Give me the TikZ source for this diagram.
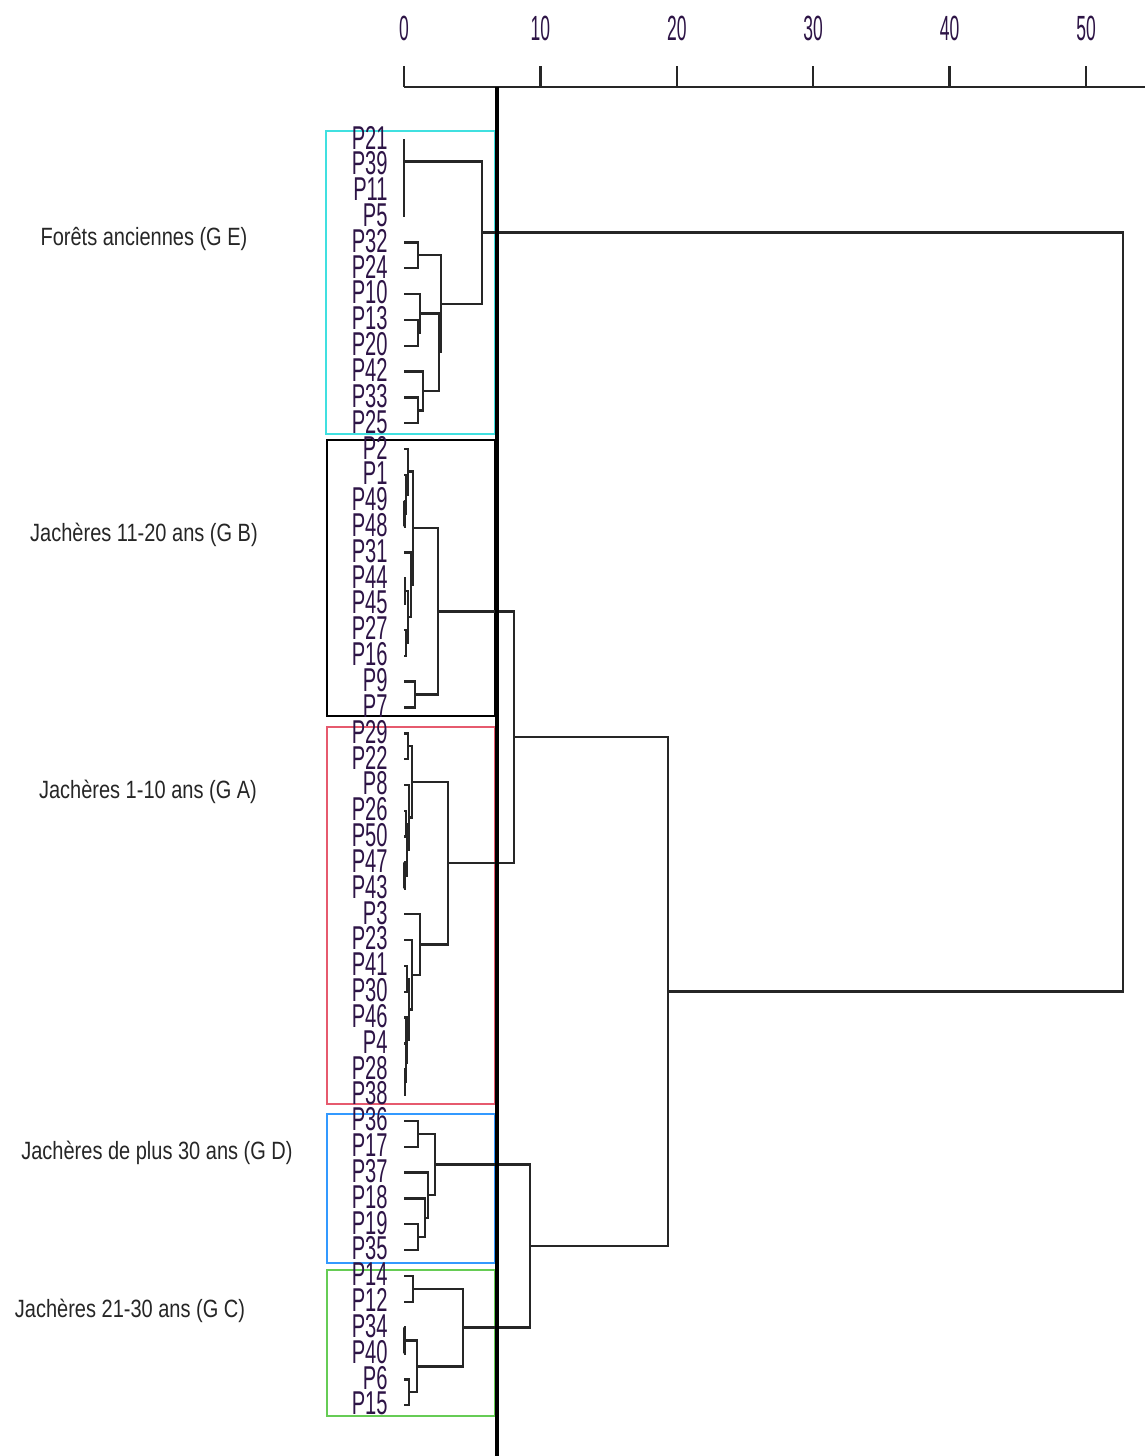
\documentclass[tikz,border=0pt]{standalone}
\usepackage{fontspec}
\usepackage{tikz}
\usetikzlibrary{calc}
\newfontfamily\leaffont[FakeStretch=0.61]{Liberation Sans}
\newfontfamily\groupfont[FakeStretch=0.8]{Liberation Sans}
\newfontfamily\axisfont[FakeStretch=0.5]{Liberation Sans}
\definecolor{ink}{RGB}{45,20,70}
\definecolor{boxE}{RGB}{64,224,224}
\definecolor{boxA}{RGB}{230,90,110}
\definecolor{boxD}{RGB}{51,153,255}
\definecolor{boxC}{RGB}{102,204,85}
\tikzset{
  leaf/.style = {anchor=east, inner sep=0pt, ink, yshift=0.75pt,
    font=\leaffont\fontsize{16.5}{16.5}\selectfont},% nom de placette
  grouplabel/.style = {inner sep=0pt, black!85,
    font=\groupfont\fontsize{12.5}{12.5}\selectfont},% nom de groupe
  ticklabel/.style = {inner sep=0pt, ink,
    font=\axisfont\fontsize{17.5}{17.5}\selectfont},% graduation
  branch/.style = {line width=1.2pt, black!85},% branche du dendrogramme
  groupbox/.style = {line width=1pt},% cadre de groupe
  cutline/.style = {line width=2pt, black}% ligne de coupure
}
% fusion de deux branches : nom, branche a, branche b, hauteur
\newcommand{\fuse}[4]{%
  \coordinate (#1m) at ($(#2)!.5!(#3)$);
  \coordinate (#1) at (#4,0 |- #1m);
  \draw[branch] (#2) -| (#1) |- (#3);}

\begin{document}
\begin{tikzpicture}[x=0.5pt,y=-0.5pt]
\useasboundingbox (0,0) rectangle (1145,1456);

% cadres des groupes
\draw[groupbox, boxE] (326,131) rectangle (495,434);
\draw[groupbox, black] (327,440) rectangle (495,716);
\draw[groupbox, boxA] (327,727) rectangle (495,1104);
\draw[groupbox, boxD] (327,1114) rectangle (495,1263);
\draw[groupbox, boxC] (327,1270) rectangle (495,1416);

% axe
\draw[branch] (404,87) -- (1145,87);
\foreach \v in {0,10,...,50} {
  \node[ticklabel] (t\v) at ({404+13.64*\v},28) {\v};
  \draw[branch] ({404+13.64*\v},66) -- ({404+13.64*\v},87);
}

% feuilles
\foreach \p [count=\i from 0] in {21,39,11,5,32,24,10,13,20,42,33,25,
    2,1,49,48,31,44,45,27,16,9,7,
    29,22,8,26,50,47,43,3,23,41,30,46,4,28,38,
    36,17,37,18,19,35,14,12,34,40,6,15} {
  \coordinate (p\p) at (404,{139+25.84*\i});
  \node[leaf] (n\p) at (388,{139+25.84*\i}) {P\p};
}

% groupe E
\fuse{e1}{p11}{p5}{404}
\fuse{e2}{p39}{e1}{404}
\fuse{e3}{p21}{e2}{404}
\fuse{e4}{p32}{p24}{418}
\fuse{e5}{p13}{p20}{418}
\fuse{e6}{p10}{e5}{420}
\fuse{e7}{p33}{p25}{418}
\fuse{e8}{p42}{e7}{423}
\fuse{e9}{e6}{e8}{439}
\fuse{e10}{e4}{e9}{441}
\fuse{gE}{e3}{e10}{482}
% groupe B
\fuse{b1}{p49}{p48}{404.5}
\fuse{b2}{p1}{b1}{406}
\fuse{b3}{p2}{b2}{408}
\fuse{b4}{p44}{p45}{405}
\fuse{b5}{p27}{p16}{406}
\fuse{b6}{b4}{b5}{408}
\fuse{b7}{p31}{b6}{411}
\fuse{b8}{b3}{b7}{413}
\fuse{b9}{p9}{p7}{415}
\fuse{gB}{b8}{b9}{438}
% groupe A
\fuse{a1}{p29}{p22}{408}
\fuse{a2}{p26}{p50}{406}
\fuse{a3}{p47}{p43}{404.5}
\fuse{a4}{a2}{a3}{407}
\fuse{a5}{p8}{a4}{409}
\fuse{a6}{a1}{a5}{412}
\fuse{a7}{p28}{p38}{405}
\fuse{a8}{p4}{a7}{406}
\fuse{a9}{p46}{a8}{406.5}
\fuse{a10}{p41}{p30}{407}
\fuse{a11}{a10}{a9}{409}
\fuse{a12}{p23}{a11}{412}
\fuse{a13}{p3}{a12}{420}
\fuse{gA}{a6}{a13}{448}
% groupe D
\fuse{d1}{p36}{p17}{418}
\fuse{d2}{p19}{p35}{418}
\fuse{d3}{p18}{d2}{425}
\fuse{d4}{p37}{d3}{428}
\fuse{gD}{d1}{d4}{435}
% groupe C
\fuse{c1}{p14}{p12}{413}
\fuse{c2}{p34}{p40}{404.5}
\fuse{c3}{p6}{p15}{409}
\fuse{c4}{c2}{c3}{417}
\fuse{gC}{c1}{c4}{463}
% fusions hautes
\fuse{ba}{gB}{gA}{514}
\fuse{dc}{gD}{gC}{530}
\fuse{badc}{ba}{dc}{668}
\fuse{root}{gE}{badc}{1123}

% coupure
\draw[cutline] (497,87) -- (497,1456);

% noms des groupes
\node[grouplabel] (lE) at (144,239) {Forêts anciennes (G E)};
\node[grouplabel] (lB) at (144,535) {Jachères 11-20 ans (G B)};
\node[grouplabel] (lA) at (148,792) {Jachères 1-10 ans (G A)};
\node[grouplabel] (lD) at (157,1153) {Jachères de plus 30 ans (G D)};
\node[grouplabel] (lC) at (130,1311) {Jachères 21-30 ans (G C)};
\end{tikzpicture}
\end{document}
